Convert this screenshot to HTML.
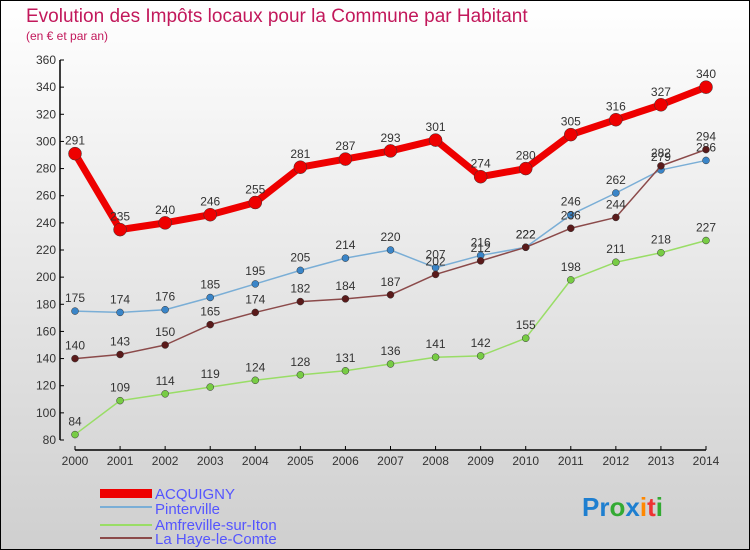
<!DOCTYPE html>
<html><head><meta charset="utf-8"><style>
body{margin:0}
#c{width:750px;height:550px;position:relative;background:linear-gradient(#fff,#cfcfcf);box-sizing:border-box;border:1px solid #000;overflow:hidden;font-family:"Liberation Sans",sans-serif}
</style></head><body>
<div id="c">
<svg width="750" height="550" style="position:absolute;left:-1px;top:-1px">
<text x="26" y="22" font-size="19" fill="#c2185b" style="font-weight:300">Evolution des Impôts locaux pour la Commune par Habitant</text>
<text x="26" y="40" font-size="12" fill="#c2185b">(en € et par an)</text>
<g id="axes"></g><g id="series"></g>
<g font-size="15" fill="#5555ff">
<rect x="100" y="489" width="52" height="9" fill="#e00"/>
<text x="155" y="499">ACQUIGNY</text>
<line x1="100" y1="507" x2="152" y2="507" stroke="#7aaed6" stroke-width="2"/>
<text x="155" y="514">Pinterville</text>
<line x1="100" y1="525" x2="152" y2="525" stroke="#99dd66" stroke-width="2"/>
<text x="155" y="530">Amfreville-sur-Iton</text>
<line x1="100" y1="538" x2="152" y2="538" stroke="#8b4a4a" stroke-width="2"/>
<text x="155" y="544">La Haye-le-Comte</text>
</g>
<text x="582" y="516" font-size="26" font-weight="bold"><tspan fill="#1e7fd0">Pr</tspan><tspan fill="#3a3">o</tspan><tspan fill="#1e7fd0">x</tspan><tspan fill="#f80">i</tspan><tspan fill="#e33">t</tspan><tspan fill="#3a3">i</tspan></text>
</svg>
</div>
<script>
const years=[2000,2001,2002,2003,2004,2005,2006,2007,2008,2009,2010,2011,2012,2013,2014];
const yTicks=[80,100,120,140,160,180,200,220,240,260,280,300,320,340,360];
const acquigny=[291,235,240,246,255,281,287,293,301,274,280,305,316,327,340];
const pinterville=[175,174,176,185,195,205,214,220,207,216,222,246,262,279,286];
const amfreville=[84,109,114,119,124,128,131,136,141,142,155,198,211,218,227];
const laHaye=[140,143,150,165,174,182,184,187,202,212,222,236,244,282,294];
const NS="http://www.w3.org/2000/svg";
const X=i=>75+i*(706-75)/14;
const Y=v=>440-(v-80)*(380/280);
function mk(t,a,p){const e=document.createElementNS(NS,t);for(const k in a)e.setAttribute(k,a[k]);p.appendChild(e);return e;}
const ax=document.getElementById('axes');
let l=mk('line',{x1:60,y1:Y(360),x2:60,y2:Y(80),stroke:'#000','stroke-width':1.5},ax);


l=mk('line',{x1:X(0),y1:450,x2:X(14),y2:450,stroke:'#000','stroke-width':1.5},ax);


yTicks.forEach(v=>{mk('line',{x1:60,y1:Y(v),x2:64,y2:Y(v),stroke:'#000'},ax);
const t=mk('text',{x:56,y:Y(v)+4,'font-size':12,fill:'#333','text-anchor':'end'},ax);t.textContent=v;

});
years.forEach((y,i)=>{mk('line',{x1:X(i),y1:446,x2:X(i),y2:450,stroke:'#000'},ax);
const t=mk('text',{x:X(i),y:465,'font-size':12,fill:'#333','text-anchor':'middle'},ax);t.textContent=y;

});
const sg=document.getElementById('series');
function series(d,name,color,w,r,dot){
const g=mk('g',{},sg);


const p=mk('polyline',{points:d.map((v,i)=>X(i)+','+Y(v)).join(' '),fill:'none',stroke:color,'stroke-width':w,'stroke-linejoin':'round'},g);


d.forEach((v,i)=>{const c=mk('circle',{cx:X(i),cy:Y(v),r:r,fill:dot,stroke:'#333','stroke-width':0.5},g);


const t=mk('text',{x:X(i),y:Y(v)-9,'font-size':12,fill:'#333','text-anchor':'middle'},g);t.textContent=v;

});
}
series(amfreville,'amfreville','#99dd66',1.5,3.5,'#77cc44');
series(pinterville,'pinterville','#7aaed6',1.5,3.5,'#3a85c8');
series(laHaye,'la-haye','#8b4a4a',1.5,3.5,'#5a1a1a');
series(acquigny,'acquigny','#e00',7,6.5,'#e00');
</script>
</body></html>
